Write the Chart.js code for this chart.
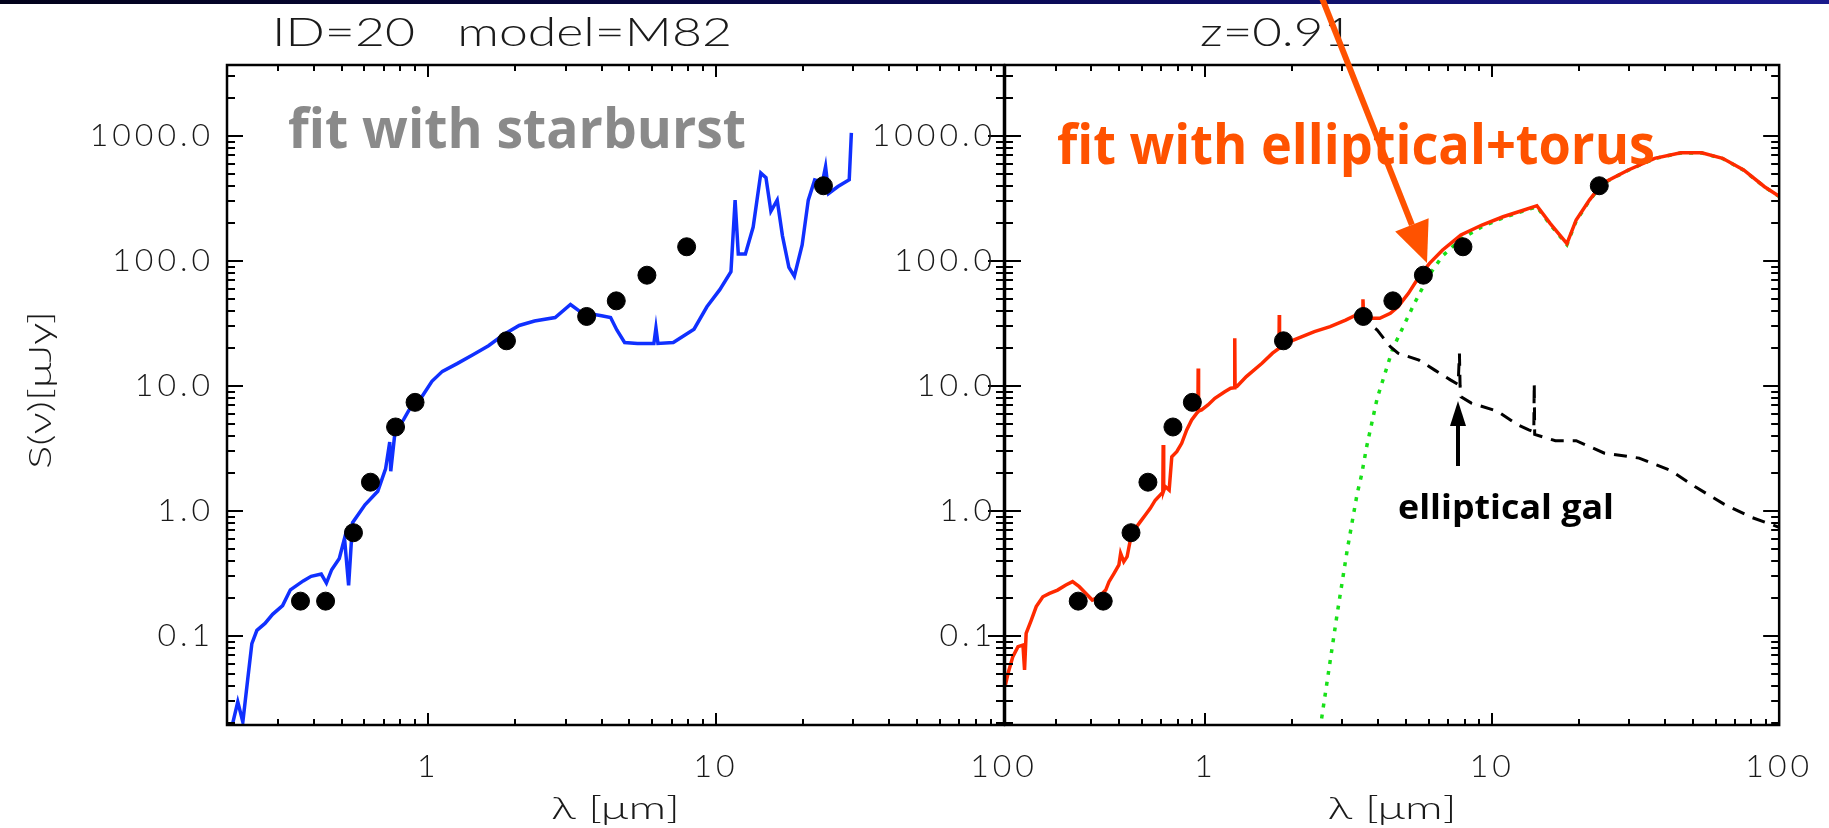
<!DOCTYPE html>
<html>
<head>
<meta charset="utf-8">
<title>ID=20 SED fits</title>
<script src="https://cdn.jsdelivr.net/npm/chart.js@4.4.1/dist/chart.umd.min.js"></script>
<style>
    html, body { margin: 0; padding: 0; background: #fff; }
    #page { position: relative; width: 1829px; height: 828px; overflow: hidden; background: #fff; }
    #band { position: absolute; left: 0; top: 0; width: 1829px; height: 4px;
            background: linear-gradient(to right, #02021a, #0a0a55 55%, #1a1a8c); }
    canvas { position: absolute; left: 0; top: 0; }
</style>
</head>
<body>
<div id="page">
    <div id="band"></div>
    <canvas id="starburstChart" width="1829" height="828"></canvas>
    <canvas id="torusChart" width="1829" height="828"></canvas>
</div>
<script>
// photometry of source ID=20 (micron, microJy)
const photLambda = [0.36, 0.44, 0.55, 0.63, 0.77, 0.90, 1.87, 3.55, 4.5, 5.75, 7.9, 23.6];
const photFlux = [0.19, 0.19, 0.67, 1.7, 4.7, 7.4, 23, 36, 48, 77, 130, 400];

// M82 starburst template fit
const starburstLambda = [0.209, 0.218, 0.227, 0.236, 0.244, 0.254, 0.271, 0.288, 0.312, 0.332,
    0.368, 0.392, 0.425, 0.443, 0.462, 0.491, 0.512, 0.529, 0.546, 0.603,
    0.668, 0.711, 0.735, 0.741, 0.766, 0.821, 0.873, 0.948, 1.03, 1.12,
    1.26, 1.43, 1.62, 1.83, 2.07, 2.34, 2.76, 3.12, 3.39, 4.0,
    4.3, 4.52, 4.81, 5.33, 6.08, 6.18, 6.28, 7.1, 8.38, 9.29,
    10.3, 11.26, 11.64, 11.94, 12.64, 13.45, 14.3, 14.9, 15.5, 16.3,
    17.0, 17.9, 18.7, 19.9, 20.9, 22.0, 23.4, 24.0, 24.6, 26.5,
    29.0, 29.5];
const starburstFlux = [0.0197, 0.0297, 0.0205, 0.0449, 0.0869, 0.111, 0.126, 0.149, 0.175, 0.234,
    0.276, 0.300, 0.313, 0.265, 0.339, 0.417, 0.604, 0.254, 0.807, 1.12,
    1.44, 2.17, 3.56, 2.08, 4.2, 5.38, 6.9, 8.13, 10.9, 13.1,
    15.1, 17.8, 21.0, 25.8, 30.5, 33.1, 35.3, 44.9, 39.0, 36.5,
    35.3, 28.1, 22.3, 21.9, 21.9, 29.2, 21.9, 22.3, 28.5, 43.0,
    59, 82, 307, 114, 114, 187, 505, 464, 250, 307,
    159, 89, 75.6, 134.6, 307, 445, 428, 570, 347, 394,
    446, 1060];

// elliptical + torus total
const totalLambda = [0.200, 0.205, 0.213, 0.222, 0.231, 0.234, 0.237, 0.247, 0.257, 0.271,
    0.286, 0.305, 0.326, 0.344, 0.363, 0.383, 0.403, 0.425, 0.449, 0.461,
    0.480, 0.499, 0.506, 0.519, 0.533, 0.547, 0.570, 0.593, 0.617, 0.642,
    0.668, 0.705, 0.710, 0.712, 0.715, 0.724, 0.747, 0.763, 0.794, 0.826,
    0.860, 0.895, 0.931, 0.941, 0.943, 0.946, 0.969, 1.02, 1.078, 1.167,
    1.224, 1.262, 1.265, 1.268, 1.287, 1.388, 1.574, 1.713, 1.804, 1.808,
    1.812, 1.839, 2.026, 2.397, 2.72, 3.08, 3.354, 3.53, 3.54, 3.56,
    3.65, 4.05, 4.41, 4.69, 5.1, 5.55, 6.04, 6.71, 7.77, 9.2,
    10.9, 12.9, 14.3, 15.9, 18.2, 19.6, 21.8, 24.2, 29.8, 36.8,
    45.4, 53.7, 63.5, 75.2, 88.9, 100];
const totalFlux = [0.0393, 0.0503, 0.0684, 0.0822, 0.0847, 0.0535, 0.105, 0.134, 0.172, 0.206,
    0.219, 0.233, 0.256, 0.272, 0.248, 0.219, 0.194, 0.206, 0.233, 0.272,
    0.317, 0.370, 0.458, 0.393, 0.431, 0.586, 0.727, 0.822, 0.929, 1.05,
    1.22, 1.39, 1.40, 3.37, 1.45, 1.57, 1.47, 2.72, 2.98, 3.48,
    4.45, 5.35, 6.04, 6.2, 13.8, 6.3, 6.43, 7.05, 7.97, 9.0,
    9.6, 9.7, 24.1, 9.8, 9.9, 11.9, 15.2, 18.3, 20.0, 37,
    20.3, 20.6, 23.3, 27.2, 29.8, 33.7, 37.0, 37.5, 49.4, 36,
    34.8, 34.8, 38.1, 43.1, 55.1, 74.9, 95.8, 122.5, 161.4, 194,
    226, 256, 277, 200, 138, 213, 307, 418, 535, 663,
    735, 735, 663, 535, 393, 330];

// elliptical galaxy component
const ellipticalLambda = [3.4, 3.97, 4.41, 4.69, 5.55, 6.3, 7.14, 7.6, 7.68, 7.72,
    7.78, 8.45, 10.4, 12.3, 13.4, 13.95, 14.0, 14.05, 16.6, 19.6,
    24.6, 32.5, 42, 51, 64, 80, 100];
const ellipticalFlux = [37, 28, 20.6, 18.3, 16.1, 13.4, 11.2, 10.3, 18.2, 10.0,
    8.2, 7.3, 6.3, 4.87, 4.45, 4.3, 10.5, 4.1, 3.65, 3.65,
    2.9, 2.65, 2.1, 1.56, 1.14, 0.89, 0.74];

// torus component
const torusLambda = [2.45, 2.52, 2.66, 2.88, 3.12, 3.38, 3.5, 3.65, 3.97, 4.5,
    5.33, 6.04, 6.71, 7.77, 9.2, 10.9, 12.9, 14.3, 15.9, 18.2,
    19.6, 21.8, 24.2, 29.8, 36.8, 45.4, 53.7, 63.5, 75.2, 88.9, 100];
const torusFlux = [0.012, 0.0194, 0.0445, 0.152, 0.488, 1.38, 1.94, 3.3, 8.0, 20,
    45, 78, 110, 150, 188, 222, 252, 272, 196, 135,
    209, 304, 415, 533, 660, 732, 732, 660, 533, 391, 328];

const xTicks = [1, 10, 100];
const xTickLabels = ['1', '10', '100'];
const yTicks = [0.1, 1, 10, 100, 1000];
const yTickLabels = ['0.1', '1.0', '10.0', '100.0', '1000.0'];

const LAMBDA_MIN = 0.2;
const LAMBDA_MAX = 100;
const FLUX_MIN = 0.0194;
const FLUX_MAX = 3700;

const THIN_FONT = 'Lato, "DejaVu Sans", sans-serif';
const HAND_FONT = '"Open Sans", "DejaVu Sans", sans-serif';

function toPoints(xs, ys) {
    return xs.map((x, i) => ({ x: x, y: ys[i] }));
}

function stretchText(ctx, text, x, y, width, align) {
    const natural = ctx.measureText(text).width;
    ctx.save();
    ctx.translate(x, y);
    ctx.scale(width / natural, 1);
    ctx.textAlign = align;
    ctx.fillText(text, 0, 0);
    ctx.restore();
}

function drawArrow(ctx, x0, y0, x1, y1, headLen, headHalf, width, color) {
    const ang = Math.atan2(y1 - y0, x1 - x0);
    const bx = x1 - headLen * Math.cos(ang);
    const by = y1 - headLen * Math.sin(ang);
    ctx.save();
    ctx.strokeStyle = color;
    ctx.fillStyle = color;
    ctx.lineWidth = width;
    ctx.beginPath();
    ctx.moveTo(x0, y0);
    ctx.lineTo(bx, by);
    ctx.stroke();
    ctx.beginPath();
    ctx.moveTo(x1, y1);
    ctx.lineTo(bx + headHalf * Math.sin(ang), by - headHalf * Math.cos(ang));
    ctx.lineTo(bx - headHalf * Math.sin(ang), by + headHalf * Math.cos(ang));
    ctx.closePath();
    ctx.fill();
    ctx.restore();
}

// box frame with inward IDL style log ticks on every side
const idlAxes = {
    id: 'idlAxes',
    beforeDraw(chart) {
        chart.ctx.letterSpacing = '4px';
    },
    afterDraw(chart) {
        const { ctx, chartArea: a, scales } = chart;
        ctx.save();
        ctx.strokeStyle = '#000';
        ctx.lineWidth = 2;
        ctx.beginPath();
        for (let k = -2; k <= 3; k++) {
            for (let m = 1; m <= 9; m++) {
                const v = m * Math.pow(10, k);
                if (v >= scales.x.min && v <= scales.x.max) {
                    const px = Math.round(scales.x.getPixelForValue(v));
                    const len = m === 1 ? 12 : 6;
                    ctx.moveTo(px, a.bottom);
                    ctx.lineTo(px, a.bottom - len);
                    ctx.moveTo(px, a.top);
                    ctx.lineTo(px, a.top + len);
                }
                if (v >= scales.y.min && v <= scales.y.max) {
                    const py = Math.round(scales.y.getPixelForValue(v));
                    const len = m === 1 ? 16 : 8;
                    ctx.moveTo(a.left, py);
                    ctx.lineTo(a.left + len, py);
                    ctx.moveTo(a.right, py);
                    ctx.lineTo(a.right - len, py);
                }
            }
        }
        ctx.stroke();
        ctx.lineWidth = 2.5;
        ctx.strokeRect(a.left, a.top, a.right - a.left, a.bottom - a.top);
        ctx.restore();
    }
};

function axisOptions(yWidth, yPad) {
    const tickFont = { family: THIN_FONT, size: 32, weight: '300' };
    return {
        x: {
            type: 'logarithmic',
            min: LAMBDA_MIN,
            max: LAMBDA_MAX,
            grid: { display: false, drawTicks: false },
            border: { display: false },
            afterBuildTicks: scale => { scale.ticks = xTicks.map(v => ({ value: v })); },
            afterFit: scale => { scale.height = 103; },
            ticks: {
                autoSkip: false,
                maxRotation: 0,
                padding: 22,
                color: '#1a1a1a',
                font: tickFont,
                callback: v => xTickLabels[xTicks.indexOf(v)]
            }
        },
        y: {
            type: 'logarithmic',
            min: FLUX_MIN,
            max: FLUX_MAX,
            grid: { display: false, drawTicks: false },
            border: { display: false },
            afterBuildTicks: scale => { scale.ticks = yTicks.map(v => ({ value: v })); },
            afterFit: scale => { scale.width = yWidth; },
            ticks: {
                autoSkip: false,
                padding: yPad,
                color: '#1a1a1a',
                font: tickFont,
                callback: v => yTickLabels[yTicks.indexOf(v)]
            }
        }
    };
}

function photometrySet() {
    return {
        data: toPoints(photLambda, photFlux),
        showLine: false,
        pointRadius: 9,
        pointBackgroundColor: '#000',
        pointBorderColor: '#000',
        pointBorderWidth: 1,
        order: 0
    };
}

function curveSet(xs, ys, color, dash, width, order) {
    return {
        data: toPoints(xs, ys),
        showLine: true,
        borderColor: color,
        borderWidth: width,
        borderDash: dash,
        pointRadius: 0,
        tension: 0,
        order: order
    };
}

function makeChart(canvasId, datasets, yWidth, yPad, padRight, drawNotes) {
    return new Chart(document.getElementById(canvasId), {
        type: 'scatter',
        data: { datasets: datasets },
        options: {
            responsive: false,
            animation: false,
            events: [],
            layout: { padding: { left: 0, right: padRight, top: 65, bottom: 0 } },
            scales: axisOptions(yWidth, yPad),
            plugins: { legend: { display: false }, tooltip: { enabled: false } }
        },
        plugins: [idlAxes, { id: 'notes', afterDraw: drawNotes }]
    });
}

function drawAxisTitle(ctx, cx) {
    ctx.font = '300 32px ' + THIN_FONT;
    ctx.textBaseline = 'middle';
    stretchText(ctx, 'λ [μm]', cx, 809, 129, 'center');
}

function drawStarburstNotes(chart) {
    const ctx = chart.ctx;
    const a = chart.chartArea;
    ctx.save();
    ctx.letterSpacing = '0px';
    ctx.fillStyle = '#1a1a1a';
    ctx.font = '300 39px ' + THIN_FONT;
    ctx.textBaseline = 'alphabetic';
    stretchText(ctx, 'ID=20   model=M82', 272, 46, 460, 'left');

    drawAxisTitle(ctx, (a.left + a.right) / 2);

    ctx.save();
    ctx.translate(41, 390);
    ctx.rotate(-Math.PI / 2);
    ctx.font = '300 32px ' + THIN_FONT;
    ctx.textBaseline = 'middle';
    stretchText(ctx, 'S(ν)[μJy]', 0, 0, 158, 'center');
    ctx.restore();

    ctx.fillStyle = '#8a8a8a';
    ctx.font = 'bold 55px ' + HAND_FONT;
    ctx.textBaseline = 'alphabetic';
    stretchText(ctx, 'fit with starburst', 288, 148, 458, 'left');
    ctx.restore();
}

function drawTorusNotes(chart) {
    const ctx = chart.ctx;
    const a = chart.chartArea;
    ctx.save();
    ctx.letterSpacing = '0px';
    ctx.fillStyle = '#1a1a1a';
    ctx.font = '300 39px ' + THIN_FONT;
    ctx.textBaseline = 'alphabetic';
    stretchText(ctx, 'z=0.91', 1200, 46, 153, 'left');

    drawAxisTitle(ctx, (a.left + a.right) / 2);

    ctx.fillStyle = '#ff5200';
    ctx.font = 'bold 55px ' + HAND_FONT;
    stretchText(ctx, 'fit with elliptical+torus', 1057, 148, 598, 'left');

    ctx.fillStyle = '#000';
    ctx.font = 'bold 34px ' + HAND_FONT;
    stretchText(ctx, 'elliptical gal', 1398, 509, 216, 'left');

    drawArrow(ctx, 1458, 466, 1458, 401, 25, 8, 4, '#000');
    drawArrow(ctx, 1322, -2, 1427, 263, 41, 18, 6, '#ff5200');
    ctx.restore();
}

document.addEventListener('DOMContentLoaded', function() {
    makeChart('starburstChart', [
        photometrySet(),
        curveSet(starburstLambda, starburstFlux, '#1030ff', [], 3.5, 1)
    ], 227, 13, 825, drawStarburstNotes);

    makeChart('torusChart', [
        photometrySet(),
        curveSet(totalLambda, totalFlux, '#ff2a00', [], 3.5, 1),
        curveSet(ellipticalLambda, ellipticalFlux, '#000', [13, 9], 3, 2),
        curveSet(torusLambda, torusFlux, '#18e018', [4, 7], 3.5, 3)
    ], 1005, 9, 44, drawTorusNotes);
});
</script>
</body>
</html>
